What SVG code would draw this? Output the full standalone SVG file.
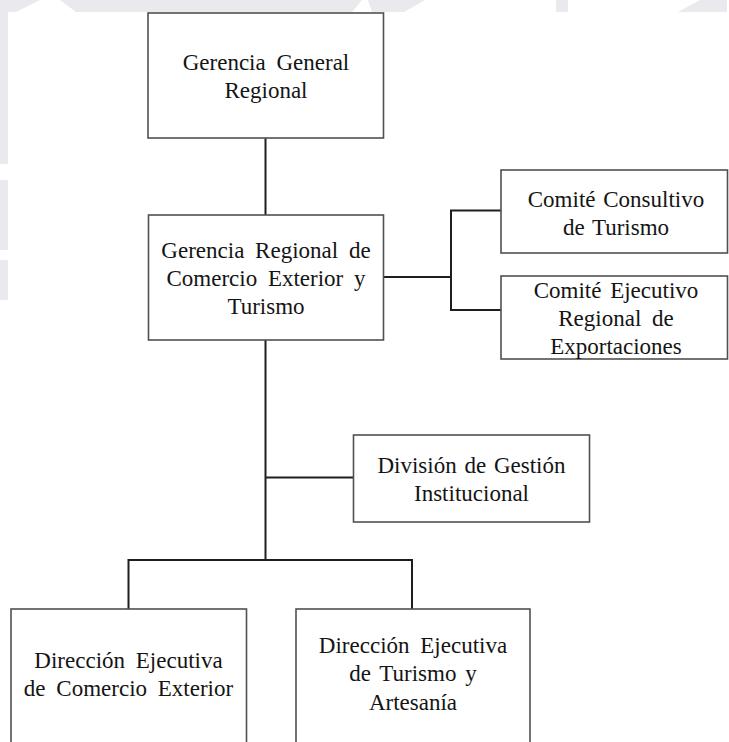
<svg xmlns="http://www.w3.org/2000/svg" width="729" height="742" viewBox="0 0 729 742">
  <rect x="0" y="0" width="729" height="742" fill="#ffffff"/>

  <!-- faint background marks along the top and left edges -->
  <g id="edge-marks" fill="#e9e9ee">
    <polygon points="0,0 40,0 16,12 0,12"/>
    <polygon points="60,0 362,0 352,12 76,12"/>
    <polygon points="368,0 425,0 404,12 372,12"/>
    <polygon points="556,0 568,0 568,12 556,12"/>
    <polygon points="700,0 727,0 727,12 678,12"/>
    <rect x="0" y="12" width="8" height="152"/>
    <rect x="0" y="180" width="8" height="70"/>
    <rect x="0" y="260" width="8" height="40"/>
  </g>

  <!-- connectors -->
  <g id="connectors" fill="none" stroke="#1e1e1e" stroke-width="2">
    <line x1="265.5" y1="138" x2="265.5" y2="215"/>
    <line x1="383.5" y1="277" x2="451" y2="277"/>
    <polyline points="501,210.5 451,210.5 451,310 501,310"/>
    <line x1="265.5" y1="340" x2="265.5" y2="560"/>
    <line x1="265.5" y1="477.5" x2="353.5" y2="477.5"/>
    <polyline points="128.5,609 128.5,560 412,560 412,609"/>
  </g>

  <!-- boxes -->
  <g id="nodes" fill="#ffffff" stroke="#505050" stroke-width="1.6">
    <g id="gerencia-general"><rect x="148" y="13" width="235.5" height="125"/></g>
    <g id="gerencia-regional"><rect x="148.5" y="215" width="235" height="125"/></g>
    <g id="comite-consultivo"><rect x="501" y="170" width="226.5" height="83"/></g>
    <g id="comite-ejecutivo"><rect x="501" y="276" width="226.5" height="83"/></g>
    <g id="division-gestion"><rect x="353.5" y="435" width="236" height="87"/></g>
    <g id="direccion-comercio"><rect x="11" y="609" width="235.5" height="150"/></g>
    <g id="direccion-turismo"><rect x="296" y="609" width="234" height="150"/></g>
  </g>

  <!-- box labels -->
  <g id="labels" font-size="23" fill="#141414" text-anchor="middle">
    <text font-family="'Liberation Serif'" x="266" y="70">Gerencia<tspan dx="5"> General</tspan></text>
    <text font-family="'Liberation Serif'" x="266" y="98">Regional</text>

    <text font-family="'Liberation Serif'" x="266" y="258">Gerencia<tspan dx="5"> Regional</tspan><tspan dx="5"> de</tspan></text>
    <text font-family="'Liberation Serif'" x="266" y="286">Comercio<tspan dx="5"> Exterior</tspan><tspan dx="5"> y</tspan></text>
    <text font-family="'Liberation Serif'" x="266" y="314">Turismo</text>

    <text font-family="'Liberation Serif'" x="616" y="207">Comit&#233;<tspan dx="2"> Consultivo</tspan></text>
    <text font-family="'Liberation Serif'" x="616" y="235">de<tspan dx="2"> Turismo</tspan></text>

    <text font-family="'Liberation Serif'" x="616" y="298">Comit&#233;<tspan dx="3"> Ejecutivo</tspan></text>
    <text font-family="'Liberation Serif'" x="616" y="326">Regional<tspan dx="5"> de</tspan></text>
    <text font-family="'Liberation Serif'" x="616" y="354">Exportaciones</text>

    <text font-family="'Liberation Serif'" x="471.5" y="473">Divisi&#243;n<tspan dx="2"> de</tspan><tspan dx="2"> Gesti&#243;n</tspan></text>
    <text font-family="'Liberation Serif'" x="471.5" y="501">Institucional</text>

    <text font-family="'Liberation Serif'" x="128.5" y="668">Direcci&#243;n<tspan dx="5"> Ejecutiva</tspan></text>
    <text font-family="'Liberation Serif'" x="128.5" y="696">de<tspan dx="5"> Comercio</tspan><tspan dx="5"> Exterior</tspan></text>

    <text font-family="'Liberation Serif'" x="413" y="653">Direcci&#243;n<tspan dx="5"> Ejecutiva</tspan></text>
    <text font-family="'Liberation Serif'" x="413" y="681">de<tspan dx="3"> Turismo</tspan><tspan dx="3"> y</tspan></text>
    <text font-family="'Liberation Serif'" x="413" y="710">Artesan&#237;a</text>
  </g>
</svg>
